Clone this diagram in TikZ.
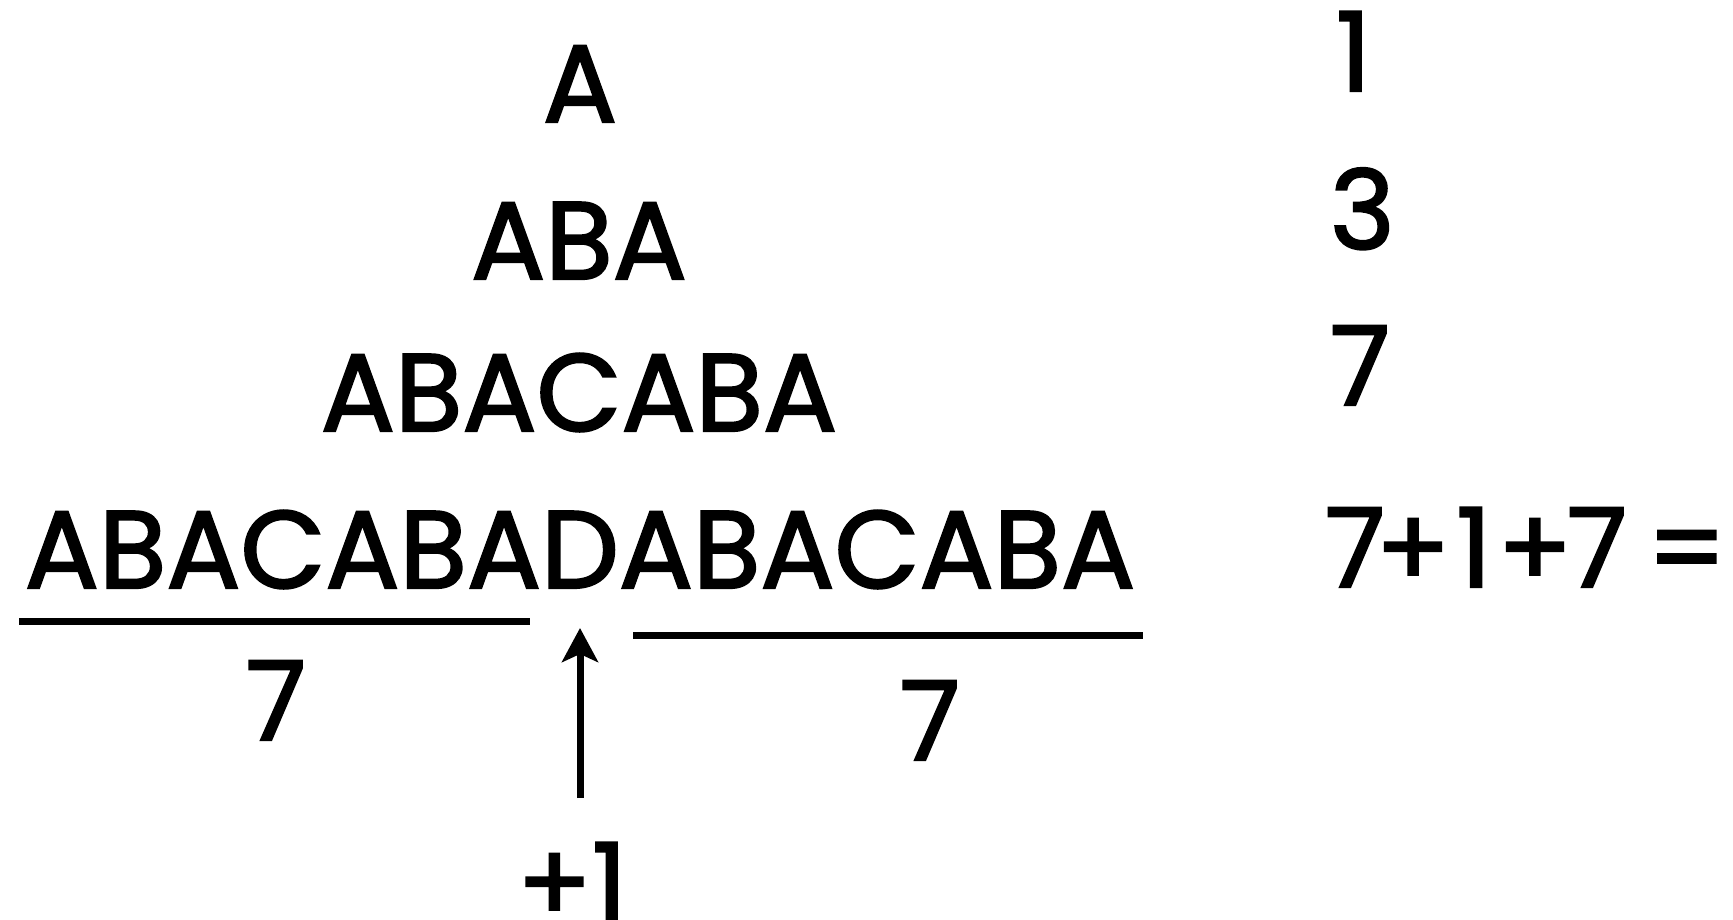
\documentclass[tikz,border=0pt]{standalone}
\usepackage{fontspec}
\setmainfont{Poppins}[FakeBold=2]
\usetikzlibrary{arrows.meta}
\begin{document}
\begin{tikzpicture}[x=1pt,y=-1pt,
  txt/.style={inner sep=0pt,outer sep=0pt,font=\fontsize{110}{120}\selectfont},
  bar/.style={line width=7pt},
  arr/.style={line width=7pt,-{Stealth[length=34pt,width=36pt,inset=8pt]}}]
\fill[white] (0,0) rectangle (1733,919);
\useasboundingbox (0,0) rectangle (1733,919);
% left column
\node[txt,anchor=base] (r1) at (580,122) {A};
\node[txt,anchor=base] (r2) at (579,279) {ABA};
\node[txt,anchor=base] (r3) at (579,431) {ABACABA};
\node[txt,anchor=base] (r4) at (580,588) {ABACABADABACABA};
% right column
\node[txt,anchor=base west] (n1) at (1336,91) {1};
\node[txt,anchor=base west] (n2) at (1330,249) {3};
\node[txt,anchor=base west] (n3) at (1330,405) {7};
\node[txt,anchor=base west] (n4) at (1330,587)
  {\makebox[50pt][c]{7}\makebox[66pt][c]{+}\makebox[56pt][c]{1}\makebox[66pt][c]{+}\makebox[58pt][c]{7}\hspace{30pt}\makebox[62pt][c]{=}};
% underlines
\coordinate (la) at (19,621);
\coordinate (lb) at (530,621);
\coordinate (ra) at (633,635);
\coordinate (rb) at (1143,635);
\draw[bar] (la) -- (lb);
\draw[bar] (ra) -- (rb);
\node[txt,anchor=base] (s1) at (276,740) {7};
\node[txt,anchor=base] (s2) at (930,760) {7};
% arrow
\node[txt,anchor=base] (p1) at (572,922) {+1};
\coordinate (tail) at (580,798);
\coordinate (tip) at (580,628);
\draw[arr] (tail) -- (tip);
\end{tikzpicture}
\end{document}
